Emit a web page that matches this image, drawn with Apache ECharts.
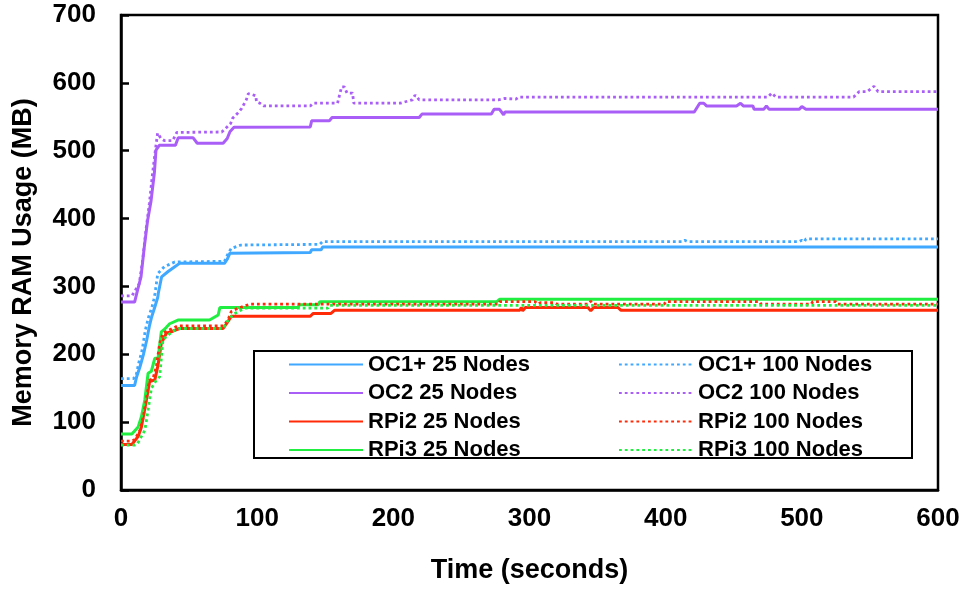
<!DOCTYPE html>
<html>
<head>
<meta charset="utf-8">
<script src="https://cdn.jsdelivr.net/npm/echarts@6/dist/echarts.min.js"></script>
<style>
html,body{margin:0;padding:0;background:#fff;}
#chart{width:968px;height:590px;}
</style>
</head>
<body>
<div id="chart"></div>
<script>
// ---- data: [time (s), memory (MB)] ----
const oc1_25 = [[0,154],[10,154],[11.5,167],[14,182],[16.4,199],[18.9,221],[20.8,241],[22.5,255],[24.9,270],[27,284],[27.4,290],[29.8,314],[34.6,322],[39.5,329],[43,334],[76,334],[78,340],[80,349],[139,350],[140,354],[147,354],[148,358],[600,358]];
const oc1_100 = [[0,164],[9,164],[11,168],[13,187],[15.5,206],[17.9,236],[20.3,255],[22.8,270],[24,280],[25,290],[27,319],[31.8,329],[39.5,336],[76,337],[79,350],[81,356],[88,361],[146,362],[148,366],[412,366],[414,368],[416,366],[498,366],[500,368],[502,366],[503,370],[600,370]];
const oc2_25 = [[0,277],[10,277],[12.2,295],[14.7,314],[17.1,358],[19.6,398],[22,425],[24.5,467],[25.7,501],[28.1,508],[40,508],[42,519],[53,519],[56,511],[75,511],[78,518],[80,528],[83,534.5],[139,535],[140,544],[153,544],[155,549],[219,549],[221,554],[272,554],[274,561],[278,561],[281,553],[282,557],[421,557],[425,570],[428,570],[430,566],[452,566],[455,570],[457,566],[464,566],[465,561],[472,561],[474,566],[476,561],[498,561],[500,565],[503,561],[600,561]];
const oc2_100 = [[0,286],[8,286],[13.4,304],[15.9,339],[18.3,383],[20.8,422],[23.2,467],[25.7,508],[26.9,526],[29.4,518],[31.8,515],[38,515],[41,527],[74,527.6],[80.5,540],[82,548],[85.5,555],[88.5,562],[92,575],[93.5,584],[96,583],[99,581],[99.5,572],[102,570],[104.6,566],[139,566],[141,570],[159,570],[162,594],[164,594],[166,585],[170,585],[171,570],[205,570],[214,575],[216,582],[219,575],[277,575],[282,577],[290,576],[292,579],[475,579],[478,585],[481,579],[538,579],[542,587],[548,587],[553,595],[556,587],[600,587]];
const rpi2_25 = [[0,67],[8,67],[12.6,79],[15,93],[18.7,133],[21,160],[24.8,162],[27.2,184],[29.6,216],[33.3,231],[38,234],[43,238],[75,238],[78.5,248],[81,256],[139,256],[141,260],[154,260],[157,265],[293,265],[294,269],[295,264],[297,269],[343,269],[345,264],[347,269],[365,269],[367,265],[600,265]];
const rpi2_100 = [[0,72],[7,72],[10,74],[14,88],[16.4,108],[21,162],[23.5,164],[26,182],[28.4,216],[30.8,231],[35.7,236],[41.8,242],[75,242],[78.5,250],[81,263],[86,268],[95,274],[277,274],[278,277.5],[304,277.5],[306,274],[308,276],[318,276],[320,274],[343,274],[345,278],[347,274],[399,274],[400,277.5],[469,277.5],[470,274],[507,274],[508,277.5],[525,277.5],[526,274],[600,274]];
const rpi3_25 = [[0,82.5],[8,82.5],[12.6,93],[15,108],[17.5,133],[19.9,172],[22.3,175],[24.8,194],[27.2,194],[29.6,233],[32,237],[35.7,245],[41.8,250.5],[65,250.5],[71.4,258],[72.6,269],[130,269],[131,273],[145,273],[146,277.5],[276,277.5],[278,281],[600,281]];
const rpi3_100 = [[0,66],[10,66],[12,68],[17.5,88],[19.9,118],[22.3,150],[26,162],[28.4,167],[30.8,221],[33.3,226],[38,234],[43,238],[75,238],[78,248],[82,258],[86,263],[91,268],[152,268],[153,272],[600,272]];

const names25 = ['OC1+ 25 Nodes','OC2 25 Nodes','RPi2 25 Nodes','RPi3 25 Nodes'];
const names100 = ['OC1+ 100 Nodes','OC2 100 Nodes','RPi2 100 Nodes','RPi3 100 Nodes'];
const colors = ['#40A8FF','#AA5EF8','#FF2A08','#20EE40'];

const FONT = 'Liberation Sans, Arial, sans-serif';
const data25 = [oc1_25, oc2_25, rpi2_25, rpi3_25];
const data100 = [oc1_100, oc2_100, rpi2_100, rpi3_100];

const series = [];
for (let i = 0; i < 4; i++) {
  series.push({
    name: names25[i], type: 'line', data: data25[i], symbol: 'none', showSymbol: false,
    lineStyle: {color: colors[i], width: 3}, itemStyle: {color: colors[i], opacity: 0}, z: 2
  });
}
for (let i = 0; i < 4; i++) {
  series.push({
    name: names100[i], type: 'line', data: data100[i], symbol: 'none', showSymbol: false,
    lineStyle: {color: colors[i], width: 2.8, type: [2.8, 3]}, itemStyle: {color: colors[i], opacity: 0}, z: 3
  });
}

const legendCommon = {
  orient: 'vertical', itemWidth: 74, itemHeight: 14, itemGap: 6.5,
  itemStyle: {opacity: 0},
  textStyle: {fontFamily: FONT, fontWeight: 'bold', fontSize: 22, color: '#000', lineHeight: 21},
  top: 353.5, padding: 0
};

const chart = echarts.init(document.getElementById('chart'));
chart.setOption({
  animation: false,
  backgroundColor: '#fff',
  grid: {left: 121, right: 30, top: 15, bottom: 100, show: true, borderColor: '#000', borderWidth: 2.5},
  xAxis: {
    type: 'value', min: 0, max: 600, interval: 100,
    name: 'Time (seconds)', nameLocation: 'middle', nameGap: 67,
    nameTextStyle: {fontFamily: FONT, fontWeight: 'bold', fontSize: 27, color: '#000'},
    axisLine: {lineStyle: {color: '#000', width: 2.5}},
    axisTick: {show: false},
    axisLabel: {fontFamily: FONT, fontWeight: 'bold', fontSize: 26, color: '#000', margin: 16},
    splitLine: {show: false}
  },
  yAxis: {
    type: 'value', min: 0, max: 700, interval: 100,
    name: 'Memory RAM Usage (MB)', nameLocation: 'middle', nameGap: 84, nameRotate: 90,
    nameTextStyle: {fontFamily: FONT, fontWeight: 'bold', fontSize: 27, color: '#000', padding: [0, 20, 0, 0]},
    axisLine: {lineStyle: {color: '#000', width: 2.5}},
    axisTick: {inside: true, length: 8, lineStyle: {color: '#000', width: 2.5}},
    axisLabel: {fontFamily: FONT, fontWeight: 'bold', fontSize: 26, color: '#000', margin: 25},
    splitLine: {show: false}
  },
  legend: [
    Object.assign({}, legendCommon, {left: 288, data: names25}),
    Object.assign({}, legendCommon, {left: 618, data: names100})
  ],
  graphic: [{
    type: 'rect', shape: {x: 254, y: 351, width: 658, height: 107},
    style: {fill: null, stroke: '#000', lineWidth: 2}, z: 1
  }],
  series: series
});
</script>
</body>
</html>
